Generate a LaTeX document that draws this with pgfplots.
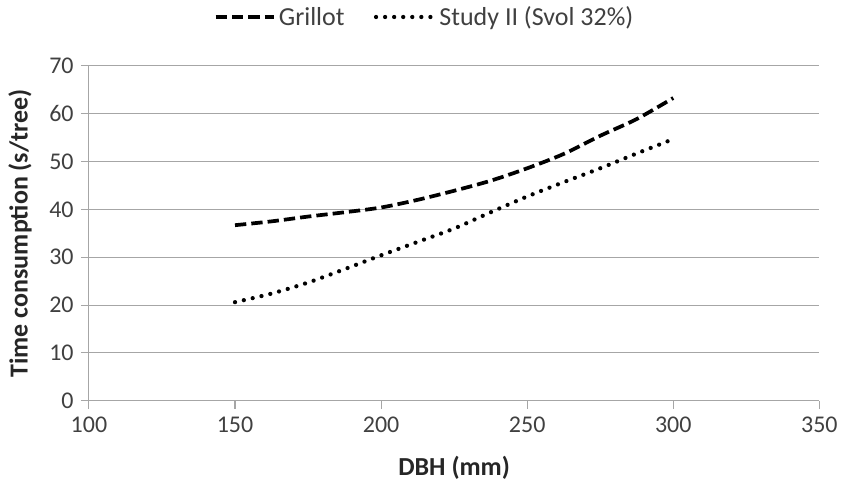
\documentclass[border=0pt]{standalone}
\usepackage{pgfplots}
\pgfplotsset{compat=1.18}
\usepackage{fontspec}
\setmainfont{Carlito}
\definecolor{gridc}{HTML}{A6A6A6}
\definecolor{txt}{HTML}{404040}
\begin{document}
\begin{tikzpicture}
\begin{axis}[
  scale only axis,
  width=548.25pt, height=251.25pt,
  xmin=100, xmax=350, ymin=0, ymax=70,
  xtick={100,150,...,350}, ytick={0,10,...,70},
  axis x line*=bottom, axis y line*=left,
  axis line style={gridc, line width=0.8pt, -},
  ymajorgrids, grid style={gridc, line width=0.8pt},
  tick style={gridc, line width=0.8pt},
  major tick length=6pt,
  xtick align=outside, ytick align=outside,
  tick label style={font=\fontsize{18}{20}\selectfont, text=txt},
  /pgf/number format/assume math mode=true,
  xticklabel style={yshift=-3pt},
  yticklabel style={xshift=-2pt},
  xlabel={\textbf{DBH (mm)}},
  ylabel={\textbf{Time consumption (s/tree)}},
  label style={font=\fontsize{19.5}{22}\selectfont, text=black!85},
  xlabel style={at={(axis description cs:0.5,0)}, anchor=center, yshift=-50.25pt},
  every axis y label/.append style={at={(-51.75pt,125.6pt)}, anchor=center},
  legend style={at={(0.46,1)}, anchor=center, yshift=36.75pt, draw=none,
    font=\fontsize{19.5}{22}\selectfont, text=txt, legend columns=2,
    /tikz/every even column/.append style={column sep=20pt}},
  legend image code/.code={\draw[#1] (0pt,0pt) -- (44pt,0pt);},
]
\addplot[black, line width=2.8pt, dash pattern=on 8.5pt off 3.8pt, smooth] coordinates {
 (150,36.7) (162.5,37.5) (175,38.5) (187.5,39.4) (200,40.4) (212.5,42.0) (225,43.9) (237.5,46.0) (250,48.6) (262.5,51.6) (275,55.4) (287.5,58.9) (300,63.3)};
\addlegendentry{Grillot}
\addplot[black, line width=3.2pt, line cap=round, dash pattern=on 0pt off 6.8pt, smooth] coordinates {
 (150,20.6) (162.5,22.4) (175,24.7) (187.5,27.5) (200,30.4) (212.5,33.2) (225,36.0) (237.5,39.4) (250,42.7) (262.5,45.7) (275,48.6) (287.5,51.7) (300,54.7)};
\addlegendentry{Study II (Svol 32\%)}
\end{axis}
\path[use as bounding box] (-66.75pt,-63pt) rectangle (564.75pt,300.75pt);
\end{tikzpicture}
\end{document}
